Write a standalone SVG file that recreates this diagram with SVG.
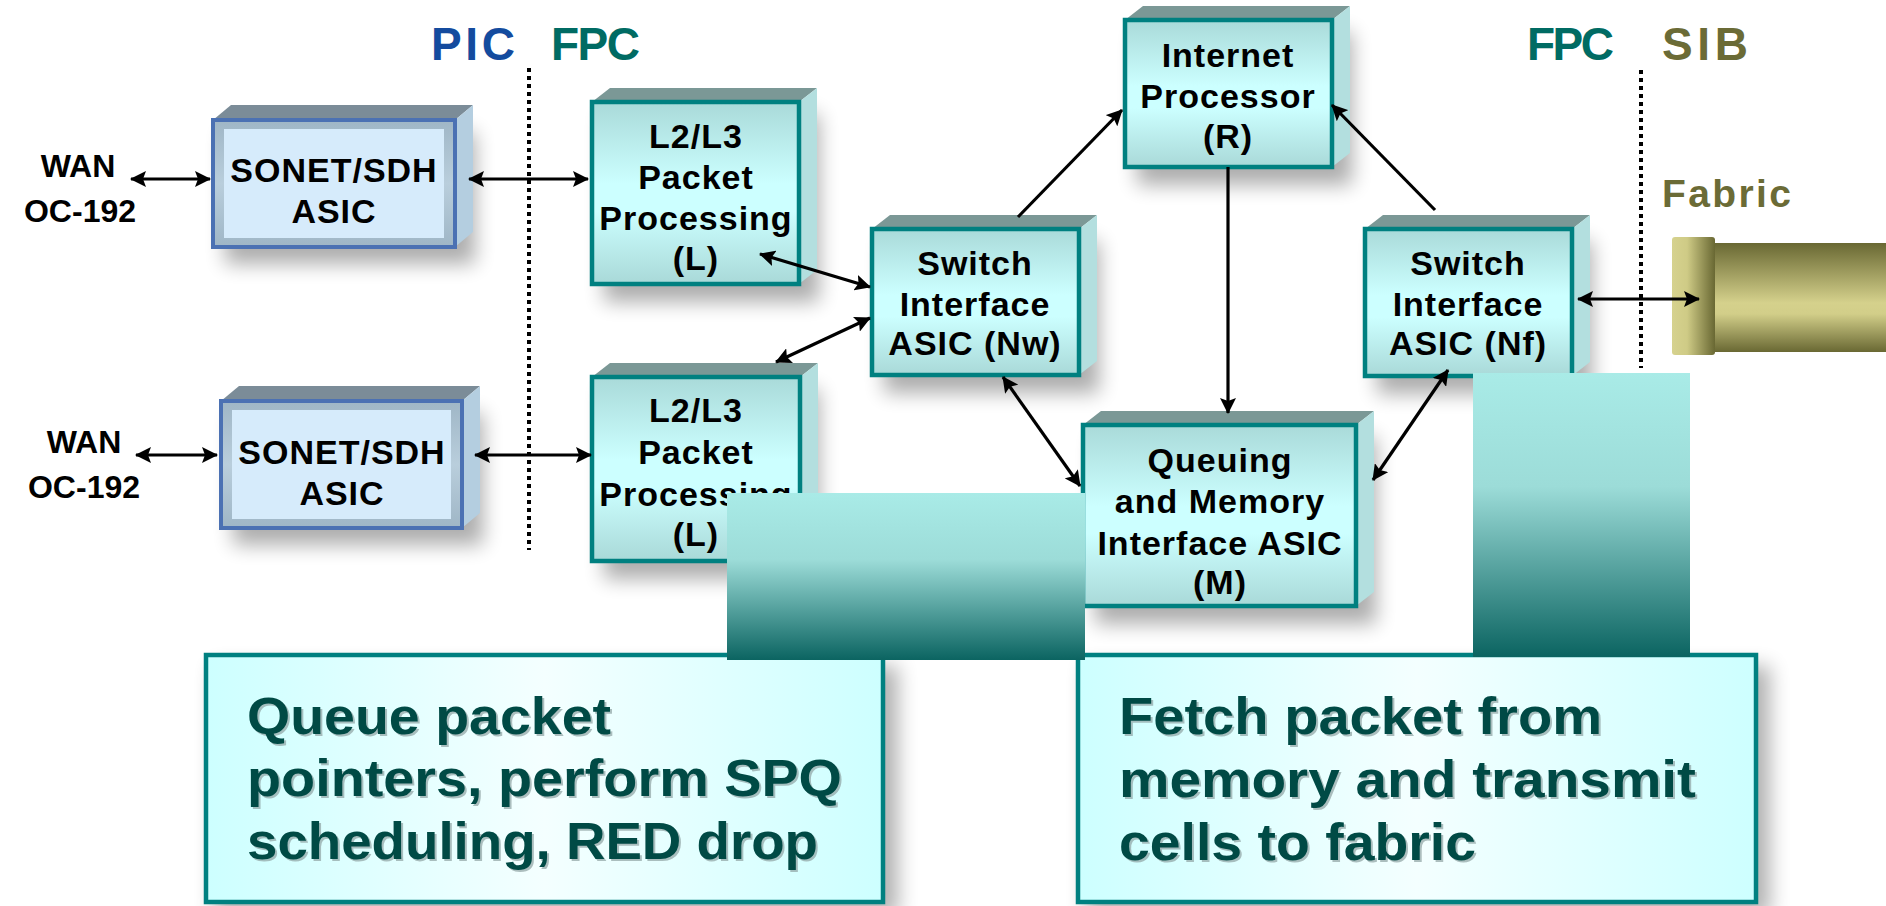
<svg xmlns="http://www.w3.org/2000/svg" width="1886" height="906" viewBox="0 0 1886 906">
  <style>
    .bx { font-family: "Liberation Sans", Arial, sans-serif; font-weight: bold; font-size: 34px; text-anchor: middle; fill: #000; letter-spacing: 1px; }
    .lbl { font-family: "Liberation Sans", Arial, sans-serif; font-weight: bold; font-size: 32px; text-anchor: middle; fill: #000; }
    .hdr { font-family: "Liberation Sans", Arial, sans-serif; font-weight: bold; font-size: 46px; }
    .note { font-family: "Liberation Sans", Arial, sans-serif; font-weight: bold; font-size: 52px; fill: #004a45; }
    .note-sh { font-family: "Liberation Sans", Arial, sans-serif; font-weight: bold; font-size: 52px; fill: #8fa3a3; opacity: .7; }
    .top-t { fill: #7b9896; }
    .side-t { fill: #b3dfdf; }
    .face-t { fill: url(#tealFace); stroke: #008080; stroke-width: 4.5; }
    .top-b { fill: #7b8c98; }
    .side-b { fill: #b4cee0; }
    .shadow { fill: #000; opacity: .32; filter: url(#blur); }
    .link { stroke: #000; stroke-width: 3.2; fill: none; }
    .two { marker-start: url(#ah); marker-end: url(#ah); }
    .one { marker-end: url(#ah); }
    .divider { stroke: #000; stroke-width: 4; stroke-dasharray: 4 4; }
  </style>
  <defs>
    <filter id="blur" x="-30%" y="-30%" width="160%" height="160%">
      <feGaussianBlur stdDeviation="10"/>
    </filter>
    <linearGradient id="tealFace" x1="0" y1="0" x2="0" y2="1">
      <stop offset="0" stop-color="#a9dad9"/>
      <stop offset="0.45" stop-color="#ccffff"/>
      <stop offset="0.6" stop-color="#ccffff"/>
      <stop offset="1" stop-color="#a9d9d8"/>
    </linearGradient>
    <linearGradient id="frameGrad" x1="0" y1="0" x2="0" y2="1">
      <stop offset="0" stop-color="#9fb6c6"/>
      <stop offset="0.5" stop-color="#b9cedc"/>
      <stop offset="1" stop-color="#9fb6c6"/>
    </linearGradient>
    <linearGradient id="noteFill" x1="0" y1="0" x2="1" y2="0">
      <stop offset="0" stop-color="#cdffff"/>
      <stop offset="0.5" stop-color="#f4ffff"/>
      <stop offset="1" stop-color="#cdffff"/>
    </linearGradient>
    <linearGradient id="barGrad" x1="0" y1="0" x2="0" y2="1">
      <stop offset="0" stop-color="#a9ebe7"/>
      <stop offset="0.4" stop-color="#9cdcd8"/>
      <stop offset="1" stop-color="#0b6461"/>
    </linearGradient>
    <linearGradient id="capGrad" x1="0" y1="0" x2="1" y2="0">
      <stop offset="0" stop-color="#d6d28e"/>
      <stop offset="0.35" stop-color="#cfcb86"/>
      <stop offset="1" stop-color="#696833"/>
    </linearGradient>
    <linearGradient id="tubeGrad" x1="0" y1="0" x2="0" y2="1">
      <stop offset="0" stop-color="#696833"/>
      <stop offset="0.55" stop-color="#d5d18c"/>
      <stop offset="0.65" stop-color="#d2ce89"/>
      <stop offset="1" stop-color="#696833"/>
    </linearGradient>
    <marker id="ah" viewBox="0 0 16 16" markerUnits="userSpaceOnUse" markerWidth="16" markerHeight="16" refX="15" refY="8" orient="auto-start-reverse">
      <path d="M0,0 L16,8 L0,16 L3,8 Z" fill="#000"/>
    </marker>
  </defs>

  <rect width="1886" height="906" fill="#fff"/>

  <!-- section headings and boundaries -->
  <g id="headings">
    <text class="hdr" x="431" y="60" fill="#144b9e" textLength="84" lengthAdjust="spacing">PIC</text>
    <text class="hdr" x="551" y="60" fill="#006b63" textLength="89" lengthAdjust="spacing">FPC</text>
    <text class="hdr" x="1527" y="60" fill="#006b63" textLength="87" lengthAdjust="spacing">FPC</text>
    <text class="hdr" x="1662" y="60" fill="#6b6b36" textLength="86" lengthAdjust="spacing">SIB</text>
    <line class="divider" x1="529" y1="68" x2="529" y2="550"/>
    <line class="divider" x1="1641" y1="70" x2="1641" y2="368"/>
  </g>

  <!-- WAN ports -->
  <g id="wan-1">
    <text class="lbl" x="78" y="177">WAN</text>
    <text class="lbl" x="80" y="222">OC-192</text>
  </g>
  <g id="wan-2">
    <text class="lbl" x="84" y="453">WAN</text>
    <text class="lbl" x="84" y="498">OC-192</text>
  </g>

  <!-- SONET/SDH ASIC, upper -->
  <g id="sonet-1">
    <rect class="shadow" x="225" y="132" width="250" height="132"/>
    <polygon class="top-b" points="213,120 231,105 473,105 455,120"/>
    <polygon class="side-b" points="455,120 473,105 473,232 455,247"/>
    <rect x="213" y="120" width="242" height="127" fill="url(#frameGrad)" stroke="#4b71b3" stroke-width="4"/>
    <rect x="224" y="129" width="220" height="109" fill="#d6ebfb"/>
    <text class="bx" x="334" y="182">SONET/SDH</text>
    <text class="bx" x="334" y="223">ASIC</text>
  </g>

  <!-- SONET/SDH ASIC, lower -->
  <g id="sonet-2">
    <rect class="shadow" x="233" y="413" width="250" height="132"/>
    <polygon class="top-b" points="221,401 239,386 480,386 462,401"/>
    <polygon class="side-b" points="462,401 480,386 480,513 462,528"/>
    <rect x="221" y="401" width="241" height="127" fill="url(#frameGrad)" stroke="#4b71b3" stroke-width="4"/>
    <rect x="232" y="410" width="219" height="109" fill="#d6ebfb"/>
    <text class="bx" x="342" y="464">SONET/SDH</text>
    <text class="bx" x="342" y="505">ASIC</text>
  </g>

  <!-- L2/L3 packet processing, upper -->
  <g id="l2l3-1">
    <rect class="shadow" x="604" y="114" width="215" height="188"/>
    <polygon class="top-t" points="592,102 610,88 817,88 799,102"/>
    <polygon class="side-t" points="799,102 817,88 817,270 799,284"/>
    <rect class="face-t" x="592" y="102" width="207" height="182"/>
    <text class="bx" x="696" y="148">L2/L3</text>
    <text class="bx" x="696" y="189">Packet</text>
    <text class="bx" x="696" y="230">Processing</text>
    <text class="bx" x="696" y="270">(L)</text>
  </g>

  <!-- L2/L3 packet processing, lower -->
  <g id="l2l3-2">
    <rect class="shadow" x="604" y="389" width="215" height="190"/>
    <polygon class="top-t" points="592,377 610,363 818,363 800,377"/>
    <polygon class="side-t" points="800,377 818,363 818,547 800,561"/>
    <rect class="face-t" x="592" y="377" width="208" height="184"/>
    <text class="bx" x="696" y="422">L2/L3</text>
    <text class="bx" x="696" y="464">Packet</text>
    <text class="bx" x="696" y="506">Processing</text>
    <text class="bx" x="696" y="546">(L)</text>
  </g>

  <!-- Switch Interface ASIC (Nw) -->
  <g id="switch-nw">
    <rect class="shadow" x="884" y="241" width="215" height="152"/>
    <polygon class="top-t" points="872,229 890,215 1097,215 1079,229"/>
    <polygon class="side-t" points="1079,229 1097,215 1097,361 1079,375"/>
    <rect class="face-t" x="872" y="229" width="207" height="146"/>
    <text class="bx" x="975" y="275">Switch</text>
    <text class="bx" x="975" y="316">Interface</text>
    <text class="bx" x="975" y="355">ASIC (Nw)</text>
  </g>

  <!-- Internet Processor (R) -->
  <g id="internet-processor">
    <rect class="shadow" x="1137" y="32" width="215" height="153"/>
    <polygon class="top-t" points="1125,20 1143,6 1350,6 1332,20"/>
    <polygon class="side-t" points="1332,20 1350,6 1350,153 1332,167"/>
    <rect class="face-t" x="1125" y="20" width="207" height="147"/>
    <text class="bx" x="1228" y="67">Internet</text>
    <text class="bx" x="1228" y="108">Processor</text>
    <text class="bx" x="1228" y="148">(R)</text>
  </g>

  <!-- Switch Interface ASIC (Nf) -->
  <g id="switch-nf">
    <rect class="shadow" x="1377" y="241" width="215" height="153"/>
    <polygon class="top-t" points="1365,229 1383,215 1590,215 1572,229"/>
    <polygon class="side-t" points="1572,229 1590,215 1590,362 1572,376"/>
    <rect class="face-t" x="1365" y="229" width="207" height="147"/>
    <text class="bx" x="1468" y="275">Switch</text>
    <text class="bx" x="1468" y="316">Interface</text>
    <text class="bx" x="1468" y="355">ASIC (Nf)</text>
  </g>

  <!-- Queuing and Memory Interface ASIC (M) -->
  <g id="queuing-memory">
    <rect class="shadow" x="1095" y="437" width="281" height="187"/>
    <polygon class="top-t" points="1083,425 1101,411 1374,411 1356,425"/>
    <polygon class="side-t" points="1356,425 1374,411 1374,592 1356,606"/>
    <rect class="face-t" x="1083" y="425" width="273" height="181"/>
    <text class="bx" x="1220" y="472">Queuing</text>
    <text class="bx" x="1220" y="513">and Memory</text>
    <text class="bx" x="1220" y="555">Interface ASIC</text>
    <text class="bx" x="1220" y="594">(M)</text>
  </g>

  <!-- switch fabric -->
  <g id="fabric">
    <text x="1662" y="207" font-family="Liberation Sans, Arial, sans-serif" font-weight="bold" font-size="39" fill="#6b6b36" textLength="129" lengthAdjust="spacing">Fabric</text>
    <rect x="1712" y="243" width="174" height="109" fill="url(#tubeGrad)"/>
    <rect x="1672" y="237" width="43" height="118" rx="3" fill="url(#capGrad)"/>
  </g>

  <!-- connectors -->
  <g id="connectors">
    <line class="link two" x1="131" y1="179" x2="210" y2="179"/>
    <line class="link two" x1="469" y1="179" x2="588" y2="179"/>
    <line class="link two" x1="136" y1="455" x2="217" y2="455"/>
    <line class="link two" x1="475" y1="455" x2="591" y2="455"/>
    <line class="link two" x1="760" y1="254" x2="870" y2="287"/>
    <line class="link two" x1="776" y1="362" x2="870" y2="318"/>
    <line class="link one" x1="1018" y1="217" x2="1122" y2="110"/>
    <line class="link one" x1="1435" y1="210" x2="1332" y2="105"/>
    <line class="link one" x1="1228" y1="167" x2="1228" y2="413"/>
    <line class="link two" x1="1003" y1="377" x2="1080" y2="486"/>
    <line class="link two" x1="1448" y1="370" x2="1373" y2="480"/>
    <line class="link two" x1="1578" y1="299" x2="1699" y2="299"/>
  </g>

  <!-- callouts -->
  <g id="note-queue">
    <rect x="214" y="666" width="684" height="250" fill="#000" opacity=".3" filter="url(#blur)"/>
    <rect x="206" y="655" width="677" height="247" fill="url(#noteFill)" stroke="#008080" stroke-width="4.5"/>
    <text class="note-sh" x="249" y="736" textLength="364" lengthAdjust="spacingAndGlyphs">Queue packet</text>
    <text class="note-sh" x="249" y="798" textLength="595" lengthAdjust="spacingAndGlyphs">pointers, perform SPQ</text>
    <text class="note-sh" x="249" y="861" textLength="571" lengthAdjust="spacingAndGlyphs">scheduling, RED drop</text>
    <text class="note" x="247" y="734" textLength="364" lengthAdjust="spacingAndGlyphs">Queue packet</text>
    <text class="note" x="247" y="796" textLength="595" lengthAdjust="spacingAndGlyphs">pointers, perform SPQ</text>
    <text class="note" x="247" y="859" textLength="571" lengthAdjust="spacingAndGlyphs">scheduling, RED drop</text>
  </g>
  <g id="note-fetch">
    <rect x="1086" y="666" width="684" height="250" fill="#000" opacity=".3" filter="url(#blur)"/>
    <rect x="1078" y="655" width="678" height="247" fill="url(#noteFill)" stroke="#008080" stroke-width="4.5"/>
    <text class="note-sh" x="1121" y="736" textLength="483" lengthAdjust="spacingAndGlyphs">Fetch packet from</text>
    <text class="note-sh" x="1121" y="799" textLength="577" lengthAdjust="spacingAndGlyphs">memory and transmit</text>
    <text class="note-sh" x="1121" y="862" textLength="357" lengthAdjust="spacingAndGlyphs">cells to fabric</text>
    <text class="note" x="1119" y="734" textLength="483" lengthAdjust="spacingAndGlyphs">Fetch packet from</text>
    <text class="note" x="1119" y="797" textLength="577" lengthAdjust="spacingAndGlyphs">memory and transmit</text>
    <text class="note" x="1119" y="860" textLength="357" lengthAdjust="spacingAndGlyphs">cells to fabric</text>
  </g>

  <!-- callout pointer bars -->
  <g id="pointer-queue">
    <rect x="727" y="493" width="358" height="167" fill="url(#barGrad)"/>
  </g>
  <g id="pointer-fetch">
    <rect x="1473" y="373" width="217" height="284" fill="url(#barGrad)"/>
  </g>
</svg>
